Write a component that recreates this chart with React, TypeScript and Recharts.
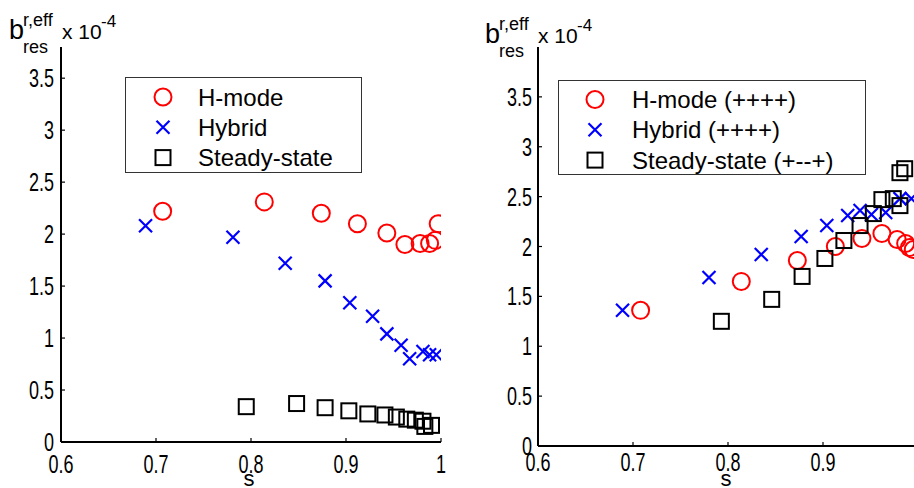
import React from 'react';
import { ScatterChart, Scatter, XAxis, YAxis, Legend } from 'recharts';

const FONT = '"Liberation Sans", Arial, Helvetica, sans-serif';

const xTicks = [0.6, 0.7, 0.8, 0.9, 1];
const yTicks = [0, 0.5, 1, 1.5, 2, 2.5, 3, 3.5];

// left panel
const hmodeLeft = [
  { s: 0.707, b: 2.22 }, { s: 0.814, b: 2.31 }, { s: 0.874, b: 2.2 }, { s: 0.912, b: 2.1 },
  { s: 0.943, b: 2.01 }, { s: 0.962, b: 1.9 }, { s: 0.978, b: 1.91 }, { s: 0.988, b: 1.91 },
  { s: 0.994, b: 1.94 }, { s: 0.997, b: 2.1 },
];
const hybridLeft = [
  { s: 0.689, b: 2.08 }, { s: 0.781, b: 1.97 }, { s: 0.836, b: 1.72 }, { s: 0.878, b: 1.55 },
  { s: 0.904, b: 1.34 }, { s: 0.928, b: 1.21 }, { s: 0.943, b: 1.04 }, { s: 0.958, b: 0.93 },
  { s: 0.967, b: 0.8 }, { s: 0.981, b: 0.87 }, { s: 0.988, b: 0.84 }, { s: 0.995, b: 0.84 },
];
const steadyLeft = [
  { s: 0.795, b: 0.34 }, { s: 0.848, b: 0.37 }, { s: 0.878, b: 0.33 }, { s: 0.903, b: 0.3 },
  { s: 0.923, b: 0.27 }, { s: 0.941, b: 0.26 }, { s: 0.953, b: 0.24 }, { s: 0.964, b: 0.22 },
  { s: 0.973, b: 0.21 }, { s: 0.981, b: 0.2 }, { s: 0.983, b: 0.15 }, { s: 0.99, b: 0.16 },
];

// right panel
const hmodeRight = [
  { s: 0.708, b: 1.36 }, { s: 0.814, b: 1.65 }, { s: 0.873, b: 1.86 }, { s: 0.913, b: 2.0 },
  { s: 0.941, b: 2.08 }, { s: 0.962, b: 2.13 }, { s: 0.978, b: 2.07 }, { s: 0.987, b: 2.03 },
  { s: 0.991, b: 1.99 }, { s: 0.995, b: 1.97 },
];
const hybridRight = [
  { s: 0.689, b: 1.36 }, { s: 0.78, b: 1.69 }, { s: 0.835, b: 1.92 }, { s: 0.877, b: 2.1 },
  { s: 0.904, b: 2.21 }, { s: 0.926, b: 2.31 }, { s: 0.939, b: 2.36 }, { s: 0.951, b: 2.32 },
  { s: 0.966, b: 2.34 }, { s: 0.981, b: 2.48 }, { s: 0.993, b: 2.48 },
];
const steadyRight = [
  { s: 0.793, b: 1.25 }, { s: 0.846, b: 1.47 }, { s: 0.878, b: 1.7 }, { s: 0.902, b: 1.88 },
  { s: 0.922, b: 2.06 }, { s: 0.939, b: 2.21 }, { s: 0.953, b: 2.33 }, { s: 0.962, b: 2.47 },
  { s: 0.974, b: 2.48 }, { s: 0.981, b: 2.41 }, { s: 0.981, b: 2.74 }, { s: 0.986, b: 2.78 },
];

const namesLeft = ['H-mode', 'Hybrid', 'Steady-state'];
const namesRight = ['H-mode (++++)', 'Hybrid (++++)', 'Steady-state (+--+)'];

const marker = (kind: string, cx: number, cy: number) => {
  if (kind === 'circle')
    return <circle cx={cx} cy={cy} r={8.5} fill="none" stroke="#ff0000" strokeWidth={2} />;
  if (kind === 'cross')
    return (
      <path
        d={`M${cx - 6.5},${cy - 6.5}L${cx + 6.5},${cy + 6.5}M${cx - 6.5},${cy + 6.5}L${cx + 6.5},${cy - 6.5}`}
        stroke="#0000ff"
        strokeWidth={2.2}
        fill="none"
      />
    );
  return <rect x={cx - 7.5} y={cy - 7.5} width={15} height={15} fill="none" stroke="#000" strokeWidth={2} />;
};

const circleShape = (p: any) => marker('circle', p.cx, p.cy);
const crossShape = (p: any) => marker('cross', p.cx, p.cy);
const squareShape = (p: any) => marker('square', p.cx, p.cy);

// tick labels in the source are tall and narrow
const xTick = (p: any) => (
  <g transform={`translate(${p.x},${p.y}) scale(1,1.4)`}>
    <text x={0} y={0} dy="0.71em" textAnchor="middle" fontSize={18} fontFamily={FONT} fill="#000">
      {p.payload.value}
    </text>
  </g>
);
const yTick = (p: any) => (
  <g transform={`translate(${p.x},${p.y}) scale(1,1.4)`}>
    <text x={0} y={0} dy="0.36em" textAnchor="end" fontSize={18} fontFamily={FONT} fill="#000">
      {p.payload.value}
    </text>
  </g>
);

const makeLegend = (w: number, h: number, top: number, mx: number, tx: number) => (props: any) => {
  const items = props.payload || [];
  return (
    <svg width={w} height={h} style={{ display: 'block' }}>
      <rect x={0.5} y={0.5} width={w - 1} height={h - 1} fill="#fff" stroke="#333" strokeWidth={1} />
      {items.map((e: any, i: number) => {
        const cy = top + i * 30.3;
        return (
          <g key={i}>
            {marker(e.type, mx, cy)}
            <text x={tx} y={cy} dy="0.36em" fontSize={24} fontFamily={FONT} fill="#000">
              {e.value}
            </text>
          </g>
        );
      })}
    </svg>
  );
};

const makeYLabel = (x: number, y: number) => () => (
  <g fontFamily={FONT} fill="#000">
    <text x={x} y={y} fontSize={27}>b</text>
    <text x={x + 14} y={y - 13} fontSize={18}>r,eff</text>
    <text x={x + 14} y={y + 14} fontSize={18}>res</text>
    <text x={x + 53} y={y} fontSize={21}>x 10</text>
    <text x={x + 92} y={y - 12} fontSize={17}>-4</text>
  </g>
);

const sLabel = (p: any) => {
  const vb = p.viewBox || {};
  return (
    <text x={vb.x + vb.width / 2 - 2} y={486} textAnchor="middle" fontSize={22} fontFamily={FONT} fill="#000">
      s
    </text>
  );
};

const axisProps = {
  stroke: '#000',
  strokeWidth: 2,
  tickLine: { stroke: '#000', strokeWidth: 1.2 },
  tickSize: -4,
  interval: 0 as const,
};

type PanelProps = {
  left: number;
  yAxisWidth: number;
  xAxisHeight: number;
  yMax: number;
  yTickGap: number;
  xTickGap: number;
  names: string[];
  hmode: { s: number; b: number }[];
  hybrid: { s: number; b: number }[];
  steady: { s: number; b: number }[];
  legendBox: { left: number; top: number; w: number; h: number; first: number; mx: number; tx: number };
  labelPos: [number, number];
};

const Panel = (p: PanelProps) => (
  <div style={{ position: 'absolute', left: p.left, top: 0 }}>
    <ScatterChart
      width={460}
      height={488}
      margin={{ top: 47, right: p.left === 0 ? 19 : 2, bottom: 0, left: 0 }}
    >
      <XAxis
        type="number"
        dataKey="s"
        domain={[0.6, 1]}
        ticks={xTicks}
        allowDataOverflow
        height={p.xAxisHeight}
        tickMargin={p.xTickGap}
        tick={xTick}
        label={sLabel}
        {...axisProps}
      />
      <YAxis
        type="number"
        dataKey="b"
        domain={[0, p.yMax]}
        ticks={yTicks}
        allowDataOverflow
        width={p.yAxisWidth}
        tickMargin={p.yTickGap}
        tick={yTick}
        label={makeYLabel(p.labelPos[0], p.labelPos[1])}
        {...axisProps}
      />
      <Legend
        layout="vertical"
        align="center"
        verticalAlign="middle"
        content={makeLegend(p.legendBox.w, p.legendBox.h, p.legendBox.first, p.legendBox.mx, p.legendBox.tx)}
        wrapperStyle={{
          position: 'absolute',
          left: p.legendBox.left,
          top: p.legendBox.top,
          width: p.legendBox.w,
          height: p.legendBox.h,
        }}
      />
      <Scatter name={p.names[0]} data={p.hmode} legendType="circle" fill="#ff0000" shape={circleShape} isAnimationActive={false} />
      <Scatter name={p.names[1]} data={p.hybrid} legendType="cross" fill="#0000ff" shape={crossShape} isAnimationActive={false} />
      <Scatter name={p.names[2]} data={p.steady} legendType="square" fill="#000" shape={squareShape} isAnimationActive={false} />
    </ScatterChart>
  </div>
);

export default function App() {
  return (
    <div
      style={{
        position: 'absolute',
        left: 0,
        top: 0,
        width: 914,
        height: 488,
        overflow: 'hidden',
        background: '#fff',
      }}
    >
      <Panel
        left={0}
        yAxisWidth={61}
        xAxisHeight={46}
        yMax={3.8}
        yTickGap={11}
        xTickGap={17}
        names={namesLeft}
        hmode={hmodeLeft}
        hybrid={hybridLeft}
        steady={steadyLeft}
        legendBox={{ left: 125, top: 77, w: 237, h: 96, first: 20, mx: 38, tx: 73 }}
        labelPos={[9, 39]}
      />
      <Panel
        left={460}
        yAxisWidth={78}
        xAxisHeight={42}
        yMax={4}
        yTickGap={10}
        xTickGap={11}
        names={namesRight}
        hmode={hmodeRight}
        hybrid={hybridRight}
        steady={steadyRight}
        legendBox={{ left: 98, top: 80, w: 308, h: 95, first: 19.5, mx: 37, tx: 74 }}
        labelPos={[25, 43]}
      />
    </div>
  );
}
